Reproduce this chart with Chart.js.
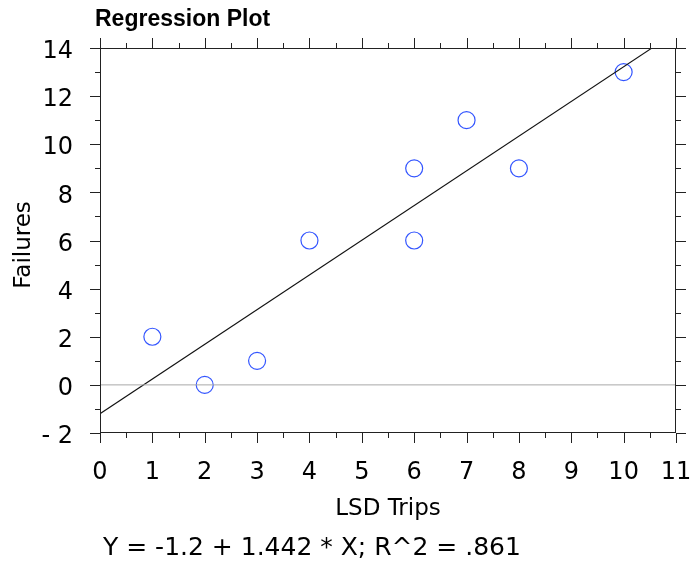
<!DOCTYPE html>
<html>
<head>
<meta charset="utf-8">
<title>Regression Plot</title>
<script src="https://cdn.jsdelivr.net/npm/chart.js@4.4.1/dist/chart.umd.min.js"></script>
<style>
  html, body { margin: 0; padding: 0; background: #fff; }
  canvas { display: block; }
</style>
</head>
<body>
<canvas id="chart" width="694" height="561"></canvas>
<script>
/* global Chart */

// data
const lsdTrips = [1, 2, 3, 4, 6, 6, 7, 8, 10];
const failures = [2, 0, 1, 6, 9, 6, 11, 9, 13];

// fitted line, as printed under the chart
const INTERCEPT = -1.2;
const SLOPE = 1.442;
const R2 = ".861";

const X_RANGE = [0, 11];
const Y_RANGE = [-2, 14];

const FONT = "'DejaVu Sans', sans-serif";
const BOX_LEFT = 100, BOX_RIGHT = 676, BOX_TOP = 48, BOX_BOTTOM = 433;

function fmtTick(v){
  return v < 0 ? `- ${Math.abs(v)}` : String(v);
}

// outward major + minor ticks on all four sides of the frame
const frameTicks = {
  id: "frameTicks",
  afterDraw(chart){
    const { ctx, chartArea: a, scales } = chart;
    const xs = scales.x, ys = scales.y;
    ctx.save();
    ctx.strokeStyle = "#222";
    ctx.lineWidth = 1;
    ctx.strokeRect(a.left + 0.5, a.top + 0.5, a.right - a.left - 1, a.bottom - a.top - 1);

    ctx.beginPath();
    for (let v = X_RANGE[0]; v <= X_RANGE[1] + 1e-9; v += 0.5){
      const len = Number.isInteger(v) ? 10 : 5;
      const px = Math.round(xs.getPixelForValue(v)) + 0.5;
      ctx.moveTo(px, a.bottom); ctx.lineTo(px, a.bottom + len);
      ctx.moveTo(px, a.top); ctx.lineTo(px, a.top - len);
    }
    for (let v = Y_RANGE[0]; v <= Y_RANGE[1] + 1e-9; v += 1){
      const len = v % 2 === 0 ? 10 : 5;
      const py = Math.round(ys.getPixelForValue(v)) + 0.5;
      ctx.moveTo(a.left, py); ctx.lineTo(a.left - len, py);
      ctx.moveTo(a.right, py); ctx.lineTo(a.right + len, py);
    }
    ctx.stroke();

    // titles
    ctx.fillStyle = "#000";
    ctx.textBaseline = "alphabetic";
    ctx.textAlign = "left";
    ctx.font = "bold 23px 'Liberation Sans', Arial, sans-serif";
    ctx.fillText("Regression Plot", 95, 26);

    ctx.textAlign = "center";
    ctx.textBaseline = "middle";
    ctx.font = `23px ${FONT}`;
    ctx.fillText("LSD Trips", (a.left + a.right) / 2, 509);

    ctx.save();
    ctx.translate(24, 245);
    ctx.rotate(-Math.PI / 2);
    ctx.fillText("Failures", 0, 0);
    ctx.restore();

    ctx.textAlign = "left";
    ctx.font = `25px ${FONT}`;
    ctx.fillText(`Y = ${INTERCEPT} + ${SLOPE} * X; R^2 = ${R2}`, 103, 548);
    ctx.restore();
  }
};

const ctx = document.getElementById("chart").getContext("2d");

new Chart(ctx, {
  type: "scatter",
  data: {
    datasets: [
      {
        label: "zero",
        data: X_RANGE.map(x => ({ x, y: 0 })),
        showLine: true,
        borderColor: "#a8a8a8",
        borderWidth: 1,
        pointRadius: 0
      },
      {
        label: "fit",
        data: X_RANGE.map(x => ({ x, y: INTERCEPT + SLOPE * x })),
        showLine: true,
        borderColor: "#111",
        borderWidth: 1.1,
        pointRadius: 0
      },
      {
        label: "Failures",
        data: lsdTrips.map((x, i) => ({ x, y: failures[i] })),
        pointStyle: "circle",
        pointRadius: 8.5,
        pointBorderWidth: 1.2,
        pointBorderColor: "#3355ff",
        pointBackgroundColor: "rgba(0,0,0,0)"
      }
    ]
  },
  options: {
    responsive: false,
    devicePixelRatio: 1,
    animation: false,
    layout: { padding: { left: 0, right: 694 - BOX_RIGHT, top: BOX_TOP, bottom: 0 } },
    plugins: { legend: { display: false }, tooltip: { enabled: false } },
    scales: {
      x: {
        type: "linear",
        min: X_RANGE[0],
        max: X_RANGE[1],
        grid: { display: false, drawTicks: false },
        border: { display: false },
        afterFit(s){
          s.height = 561 - BOX_BOTTOM;
          s.paddingLeft = 0; s.paddingRight = 0;
        },
        ticks: {
          stepSize: 1,
          padding: 25,
          color: "#000",
          font: { family: FONT, size: 24 },
          callback: fmtTick
        }
      },
      y: {
        type: "linear",
        min: Y_RANGE[0],
        max: Y_RANGE[1],
        grid: { display: false, drawTicks: false },
        border: { display: false },
        afterFit(s){
          s.width = BOX_LEFT;
          s.paddingTop = 0; s.paddingBottom = 0;
        },
        ticks: {
          stepSize: 2,
          padding: 27,
          labelOffset: 4,
          color: "#000",
          font: { family: FONT, size: 24 },
          callback: fmtTick
        }
      }
    }
  },
  plugins: [frameTicks]
});
</script>
</body>
</html>
